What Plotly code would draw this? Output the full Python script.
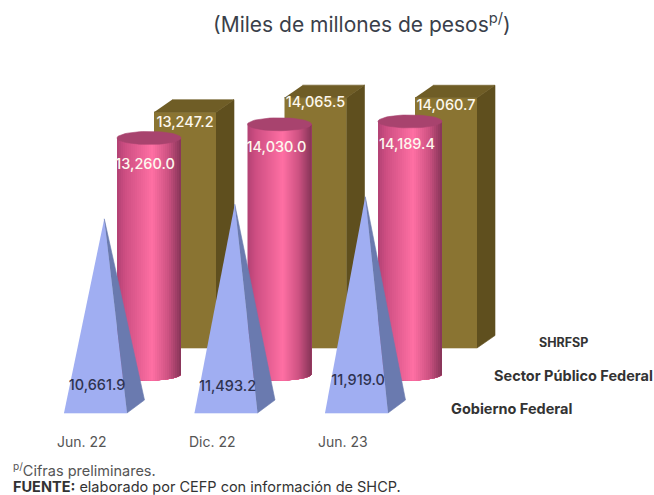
import math
import plotly.graph_objects as go

# data
categories = ["Jun. 22", "Dic. 22", "Jun. 23"]
shrfsp = [13247.2, 14065.5, 14060.7]
sector_publico = [13260.0, 14030.0, 14189.4]
gobierno = [10661.9, 11493.2, 11919.0]
series_names = ["SHRFSP", "Sector Público Federal", "Gobierno Federal"]

FONT = "Inter"
W, H = 654, 495
BASE_PY = 413      # pixel row of value 0 (front edge of the pyramids)
PX_PER_UNIT = 0.0178
U = 1 / PX_PER_UNIT  # value units per pixel
STEP = 130.5       # px between categories

GOLD_FRONT, GOLD_SIDE, GOLD_TOP = "#8a7432", "#5f4f1e", "#6f5d26"
PYR_FRONT, PYR_SIDE = "#a0aef2", "#6a7aaf"
CYL_TOP = "#a8436e"
# left edge -> highlight -> right edge
CYL_STOPS = [(0.0, (178, 66, 116)), (0.12, (205, 78, 130)), (0.55, (255, 112, 164)),
             (0.8, (205, 82, 130)), (1.0, (134, 52, 88))]

fig = go.Figure()


def poly(xs, ys, color, width=0.6):
    fig.add_trace(go.Scatter(x=xs, y=ys, mode="lines", fill="toself", fillcolor=color,
                             line=dict(color=color, width=width), hoverinfo="skip",
                             showlegend=False))


def cyl_color(t):
    for (t0, c0), (t1, c1) in zip(CYL_STOPS, CYL_STOPS[1:]):
        if t <= t1:
            f = (t - t0) / (t1 - t0)
            return "rgb(%d,%d,%d)" % tuple(a + (b - a) * f for a, b in zip(c0, c1))
    return "rgb(%d,%d,%d)" % CYL_STOPS[-1][1]


# gold boxes, at the back
for i, val in enumerate(shrfsp):
    x0, x1 = 154 + STEP * i, 216 + STEP * i
    dx, dy = 18, 12.5 * U
    y0 = 65 * U
    y1 = y0 + val
    poly([x0, x1, x1, x0], [y0, y0, y1, y1], GOLD_FRONT)
    poly([x1, x1 + dx, x1 + dx, x1], [y0, y0 + dy, y1 + dy, y1], GOLD_SIDE)
    poly([x0, x1, x1 + dx, x0 + dx], [y1, y1, y1 + dy, y1 + dy], GOLD_TOP)

# pink cylinders: each strip runs to the right edge and the next one paints over it
N_STRIPS = 32
for i, val in enumerate(sector_publico):
    cx = 149 + STEP * i
    r, ry = 32, 6.5 * U
    y0 = 39 * U
    y1 = y0 + val
    for s in range(N_STRIPS):
        xa = cx - r + 2 * r * s / N_STRIPS
        a0 = math.acos((cx - xa) / r)
        arc = [a0 + (math.pi - a0) * k / 24 for k in range(25)]
        xs = [cx - r * math.cos(a) for a in arc]
        ys = [y0 - ry * math.sin(a) for a in arc]
        poly(xs + [cx + r, xa], ys + [y1, y1], cyl_color((s + 0.5) / N_STRIPS), width=0)
    angles = [2 * math.pi * k / 60 for k in range(61)]
    poly([cx + r * math.cos(a) for a in angles],
         [y1 + ry * math.sin(a) for a in angles], CYL_TOP)

# blue pyramids, in front
for i, val in enumerate(gobierno):
    x0, x1 = 64 + STEP * i, 127 + STEP * i
    dx, dy = 17.5, 13 * U
    apex_x = (x0 + x1 + dx) / 2
    apex_y = dy / 2 + val * 0.989
    poly([x0, x1, apex_x], [0, 0, apex_y], PYR_FRONT)
    poly([x1, x1 + dx, apex_x], [0, dy, apex_y], PYR_SIDE)

# value labels
label_font = dict(family=FONT, size=14.5, color="#fdf8ee", weight=500)
fig.add_trace(go.Scatter(
    x=[185 + STEP * i for i in range(3)],
    y=[65 * U + v - off * U for v, off in zip(shrfsp, [11, 6, 9])],
    text=[f"{v:,.1f}" for v in shrfsp], mode="text", textfont=label_font,
    hoverinfo="skip", showlegend=False))
fig.add_trace(go.Scatter(
    x=[145 + STEP * i + d for i, d in enumerate([0, 1, 1])],
    y=[39 * U + v - off * U for v, off in zip(sector_publico, [27, 24, 24])],
    text=[f"{v:,.1f}" for v in sector_publico], mode="text", textfont=label_font,
    hoverinfo="skip", showlegend=False))
fig.add_trace(go.Scatter(
    x=[97 + STEP * i for i in range(3)],
    y=[27 * U, 26 * U, 32 * U],
    text=[f"{v:,.1f}" for v in gobierno], mode="text",
    textfont=dict(family=FONT, size=14.5, color="#2f3350", weight=500),
    hoverinfo="skip", showlegend=False))


def note(x, py, text, size, color="#444444", anchor="center"):
    fig.add_annotation(x=x, y=(BASE_PY - py) * U, text=text, showarrow=False, xanchor=anchor,
                       yanchor="middle", font=dict(family=FONT, size=size, color=color))


note(362, 23, "(Miles de millones de pesos<sup>p/</sup>)", 21, "#3a3f4a")
for i, cat in enumerate(categories):
    note(82 + STEP * i, 441, cat, 14, "#555555")
for name, x, py, size in zip(series_names, [563, 573, 511], [342, 375, 408], [12.5, 14.5, 14.5]):
    note(x, py, f"<b>{name}</b>", size, "#333333")
note(11, 469, "<sup>p/</sup>Cifras preliminares.", 14.5, "#555555", "left")
note(11, 486, "<b>FUENTE:</b> elaborado por CEFP con información de SHCP.", 14.5, "#333333", "left")

fig.update_layout(
    width=W, height=H, margin=dict(l=0, r=0, t=0, b=0),
    paper_bgcolor="white", plot_bgcolor="white", showlegend=False,
    xaxis=dict(range=[0, W], visible=False, fixedrange=True),
    yaxis=dict(range=[(BASE_PY - H) * U, BASE_PY * U], visible=False, fixedrange=True),
)

# drop the browser's default body margin so the figure fills the page
fig.write_html("out.html", config={"displayModeBar": False},
               post_script="document.body.style.margin='0';document.body.style.overflow='hidden';")
